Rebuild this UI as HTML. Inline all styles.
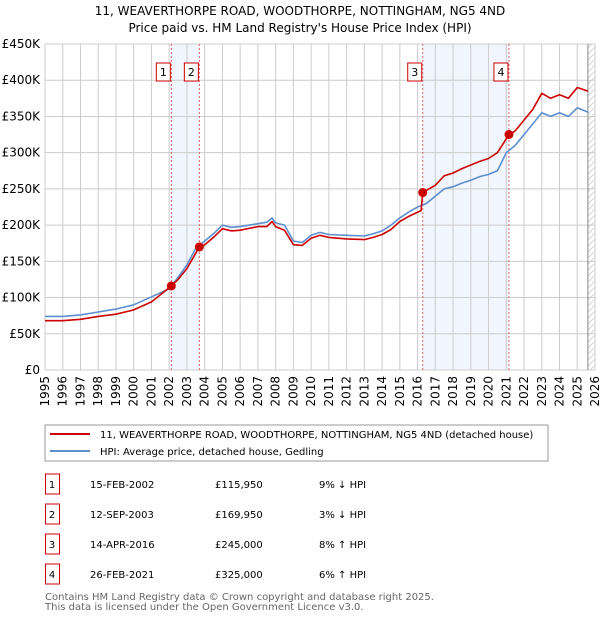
<!DOCTYPE html>
<html><head><meta charset="utf-8"><style>
body{margin:0;background:#fff;font-family:"DejaVu Sans","Liberation Sans",sans-serif;}
svg text{font-family:"DejaVu Sans","Liberation Sans",sans-serif;}
</style></head><body>
<svg id="c" width="600" height="620" xmlns="http://www.w3.org/2000/svg">
<defs><pattern id="hatch" width="6" height="6" patternUnits="userSpaceOnUse"><path d="M0,6 L6,0" stroke="#ccc" stroke-width="0.8"/></pattern></defs>
<text x="300" y="15" font-size="12" text-anchor="middle">11, WEAVERTHORPE ROAD, WOODTHORPE, NOTTINGHAM, NG5 4ND</text>
<text x="300" y="32" font-size="12" text-anchor="middle">Price paid vs. HM Land Registry's House Price Index (HPI)</text>
<g id="plot"></g>
<rect x="45" y="425" width="503" height="36" fill="#fff" stroke="#999"/>
<line x1="50" y1="434" x2="90" y2="434" stroke="#cc0000" stroke-width="2"/>
<text x="100" y="438" font-size="10">11, WEAVERTHORPE ROAD, WOODTHORPE, NOTTINGHAM, NG5 4ND (detached house)</text>
<line x1="50" y1="451" x2="90" y2="451" stroke="#5b8fd0" stroke-width="2"/>
<text x="100" y="455" font-size="10">HPI: Average price, detached house, Gedling</text>
<g id="table"></g>
<text x="45" y="600" font-size="10" fill="#666">Contains HM Land Registry data © Crown copyright and database right 2025.</text>
<text x="45" y="610" font-size="10" fill="#666">This data is licensed under the Open Government Licence v3.0.</text>
</svg>
<script>
const hpiYears=[1995,1996,1997,1998,1999,2000,2001,2002,2002.5,2003,2003.5,2004,2004.5,2005,2005.5,2006,2007,2007.5,2007.8,2008,2008.5,2009,2009.5,2010,2010.5,2011,2012,2013,2013.5,2014,2014.5,2015,2015.5,2016,2016.5,2017,2017.5,2018,2018.5,2019,2019.5,2020,2020.5,2021,2021.5,2022,2022.5,2023,2023.5,2024,2024.5,2025,2025.6];
const hpiValues=[74,74,76,80,84,90,101,112,128,145,168,178,188,200,197,198,202,204,210,203,200,178,176,186,190,187,186,185,188,192,200,210,218,225,230,240,250,253,258,262,267,270,275,300,310,325,340,355,350,355,350,362,356];
const priceYears=[1995,1996,1997,1998,1999,2000,2001,2002.12,2002.5,2003,2003.7,2004,2004.5,2005,2005.5,2006,2007,2007.5,2007.8,2008,2008.5,2009,2009.5,2010,2010.5,2011,2012,2013,2013.5,2014,2014.5,2015,2015.5,2016.2,2016.29,2016.5,2017,2017.5,2018,2018.5,2019,2019.5,2020,2020.5,2021.15,2021.5,2022,2022.5,2023,2023.5,2024,2024.5,2025,2025.6];
const priceValues=[68,68,70,74,77,83,94,116,125,140,170,173,183,195,192,193,198,198,205,198,193,173,172,182,186,183,181,180,183,187,194,205,212,220,245,248,255,268,272,278,283,288,292,300,325,330,345,360,382,375,380,375,390,385];
const saleLabels=["1","2","3","4"];
const saleYears=[2002.12,2003.70,2016.29,2021.15];
const saleValues=[115.95,169.95,245,325];
const saleDates=["15-FEB-2002","12-SEP-2003","14-APR-2016","26-FEB-2021"];
const salePrices=["£115,950","£169,950","£245,000","£325,000"];
const saleHpi=["9% ↓ HPI","3% ↓ HPI","8% ↑ HPI","6% ↑ HPI"];
const yTicks=[0,50,100,150,200,250,300,350,400,450];
const yTickLabels=["£0","£50K","£100K","£150K","£200K","£250K","£300K","£350K","£400K","£450K"];
const xTicks=[1995,1996,1997,1998,1999,2000,2001,2002,2003,2004,2005,2006,2007,2008,2009,2010,2011,2012,2013,2014,2015,2016,2017,2018,2019,2020,2021,2022,2023,2024,2025,2026];
const dataEnd=2025.6;

const X0=45,X1=595,Y0=370,Y1=44;
const xs=v=>X0+(v-1995)/(2026-1995)*(X1-X0);
const ys=v=>Y0-v/450*(Y0-Y1);
const NS="http://www.w3.org/2000/svg";
const plot=document.getElementById('plot');
function mk(tag,attrs,parent){const e=document.createElementNS(NS,tag);for(const k in attrs)e.setAttribute(k,attrs[k]);(parent||plot).appendChild(e);return e;}

// shaded spans
for(let i=0;i<4;i+=2){
 const r=mk('rect',{x:xs(saleYears[i]),y:Y1,width:xs(saleYears[i+1])-xs(saleYears[i]),height:Y0-Y1,fill:'#eef3fc',opacity:0.8});
 
 
}
// hatch future
const h=mk('rect',{x:xs(dataEnd),y:Y1,width:X1-xs(dataEnd),height:Y0-Y1,fill:'url(#hatch)'});


// grid
yTicks.forEach((t,i)=>{
 const l=mk('line',{x1:X0,x2:X1,y1:ys(t),y2:ys(t),stroke:'#ccc','stroke-width':1});
 
 
 const tx=mk('text',{x:X0-5,y:ys(t)+4,'font-size':12,'text-anchor':'end'});
 tx.textContent=yTickLabels[i];
 
 
});
xTicks.forEach(t=>{
 const l=mk('line',{x1:xs(t),x2:xs(t),y1:Y1,y2:Y0,stroke:'#ccc','stroke-width':1});
 
 
 const tx=mk('text',{x:0,y:0,'font-size':12,'text-anchor':'end',transform:`translate(${xs(t)+4},${Y0+6}) rotate(-90)`});
 tx.textContent=t;
 
 
});
const el=mk('line',{x1:xs(dataEnd),x2:xs(dataEnd),y1:Y1,y2:Y0,stroke:'#888','stroke-width':1});


// sale vlines
saleYears.forEach((y,i)=>{
 const l=mk('line',{x1:xs(y),x2:xs(y),y1:Y1,y2:Y0,stroke:'#e06060','stroke-width':1,'stroke-dasharray':'2,2'});
 
 
 const b=mk('rect',{x:xs(y)-15,y:63,width:14,height:18,fill:'#fff',stroke:'#cc0000'});
 
 
 const t=mk('text',{x:xs(y)-8,y:76,'font-size':11,'text-anchor':'middle'});
 t.textContent=saleLabels[i];
 
 
});
function line(xa,va,color,name){
 const d=xa.map((x,i)=>(i?'L':'M')+xs(x).toFixed(1)+','+ys(va[i]).toFixed(1)).join(' ');
 const p=mk('path',{d:d,fill:'none',stroke:color,'stroke-width':1.6,'stroke-linejoin':'round'});
 
 
}
line(hpiYears,hpiValues,'#5b8fd0','hpi-line');
line(priceYears,priceValues,'#cc0000','price-line');
saleYears.forEach((y,i)=>{
 const c=mk('circle',{cx:xs(y),cy:ys(saleValues[i]),r:4.5,fill:'#cc0000'});
 
 
});
// table
const tb=document.getElementById('table');
saleLabels.forEach((s,i)=>{
 const cy=483+i*30;
 const b=mk('rect',{x:45.5,y:cy-9,width:14,height:20,fill:'#fff',stroke:'#cc0000'},tb);
 
 
 const vals=[[s,52,'middle'],[saleDates[i],90,'start'],[salePrices[i],215,'start'],[saleHpi[i],319,'start']];
 const names=['table-index','table-date','table-price','table-hpi'];
 vals.forEach((v,j)=>{
  const t=mk('text',{x:v[1],y:cy+5,'font-size':10,'text-anchor':v[2]},tb);
  t.textContent=v[0];
  
  
 });
});
</script>
</body></html>
